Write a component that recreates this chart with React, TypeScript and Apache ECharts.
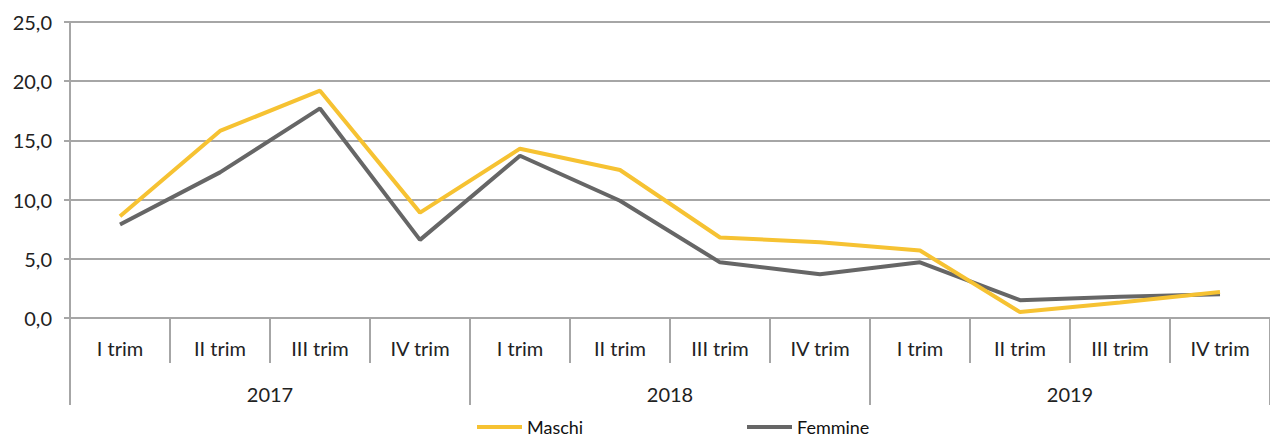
import React, { useEffect, useRef } from "react";
import * as echarts from "echarts";

const quarters = ["I trim", "II trim", "III trim", "IV trim", "I trim", "II trim", "III trim", "IV trim", "I trim", "II trim", "III trim", "IV trim"];
const years = ["2017", "2018", "2019"];
const maschi = [8.6, 15.8, 19.2, 8.9, 14.3, 12.5, 6.8, 6.4, 5.7, 0.5, 1.3, 2.2];
const femmine = [7.9, 12.3, 17.7, 6.6, 13.7, 9.9, 4.7, 3.7, 4.7, 1.5, 1.8, 2.0];
const yTicks = { min: 0, max: 25, interval: 5 };

const FONT = "Lato";
const GRID = "#A6A6A6";
const YELLOW = "#F6C232";
const GRAY = "#666666";

export default function App() {
  const ref = useRef<HTMLDivElement>(null);
  useEffect(() => {
    if (!ref.current) return;
    const chart = echarts.init(ref.current, null, { renderer: "svg" });
    const legendText = { fontFamily: FONT, fontSize: 18, lineHeight: 18, color: "#111" };
    chart.setOption({
      animation: false,
      backgroundColor: "#ffffff",
      textStyle: { fontFamily: FONT },
      grid: { left: 70, right: 0, top: 22, bottom: 122, containLabel: false },
      legend: [
        {
          data: ["Maschi"],
          left: 477,
          top: 418,
          padding: 0,
          icon: "rect",
          itemWidth: 45,
          itemHeight: 4,
          textStyle: legendText,
        },
        {
          data: ["Femmine"],
          left: 747,
          top: 418,
          padding: 0,
          icon: "rect",
          itemWidth: 45,
          itemHeight: 4,
          textStyle: legendText,
        },
      ],
      xAxis: [
        {
          type: "category",
          data: quarters,
          boundaryGap: true,
          position: "bottom",
          axisLine: { show: true, lineStyle: { color: GRID, width: 2 } },
          axisTick: { show: true, interval: 0, length: 45, lineStyle: { color: GRID, width: 2 } },
          axisLabel: { interval: 0, margin: 20, fontSize: 20, color: "#222", fontFamily: FONT },
        },
        {
          type: "category",
          data: years,
          boundaryGap: true,
          position: "bottom",
          axisLine: { show: false },
          axisTick: { show: true, interval: 0, length: 87, lineStyle: { color: GRID, width: 2 } },
          axisLabel: { interval: 0, margin: 66, fontSize: 20, color: "#222", fontFamily: FONT },
        },
      ],
      yAxis: {
        type: "value",
        min: yTicks.min,
        max: yTicks.max,
        interval: yTicks.interval,
        axisLine: { show: true, lineStyle: { color: GRID, width: 2 } },
        axisTick: { show: true, length: 6, lineStyle: { color: GRID, width: 2 } },
        splitLine: { show: true, lineStyle: { color: GRID, width: 2 } },
        axisLabel: {
          margin: 18,
          fontSize: 20,
          color: "#222",
          fontFamily: FONT,
          formatter: (v: number) => v.toFixed(1).replace(".", ","),
        },
      },
      series: [
        {
          name: "Maschi",
          type: "line",
          data: maschi,
          xAxisIndex: 0,
          symbol: "none",
          lineStyle: { color: YELLOW, width: 4 },
          itemStyle: { color: YELLOW },
          z: 3,
        },
        {
          name: "Femmine",
          type: "line",
          data: femmine,
          xAxisIndex: 0,
          symbol: "none",
          lineStyle: { color: GRAY, width: 4 },
          itemStyle: { color: GRAY },
          z: 2,
        },
      ],
    });
    return () => chart.dispose();
  }, []);
  return (
    <div
      ref={ref}
      style={{ position: "fixed", left: 0, top: 0, width: 1270, height: 440, background: "#fff" }}
    />
  );
}
